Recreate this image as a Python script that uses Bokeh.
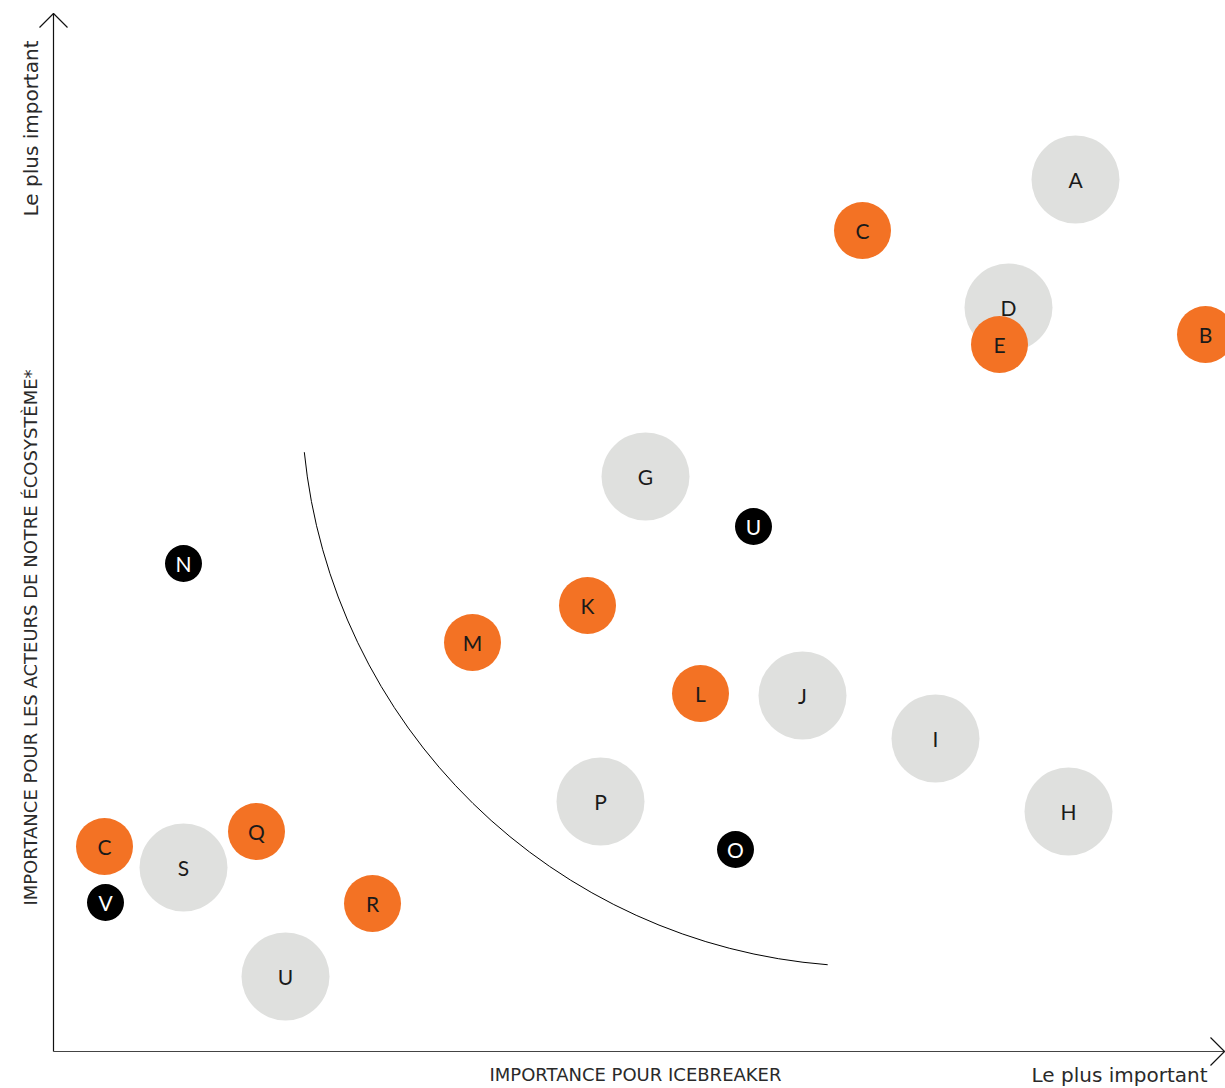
import math
from bokeh.plotting import figure
from bokeh.models import Range1d, ColumnDataSource
from bokeh.core.properties import value
from bokeh.embed import file_html
from bokeh.resources import INLINE

# ---- data (units: 0 = axis origin) ----
gray_labels = ["A", "D", "G", "J", "I", "H", "P", "S", "U"]
gray_x = [102.2, 95.5, 59.2, 74.9, 88.2, 101.5, 54.7, 13.0, 23.2]
gray_y = [87.2, 74.4, 57.5, 35.6, 31.3, 24.0, 25.0, 18.4, 7.5]

orange_labels = ["C", "E", "B", "K", "M", "L", "C", "Q", "R"]
orange_x = [80.9, 94.6, 115.2, 53.4, 41.9, 64.7, 5.1, 20.3, 31.9]
orange_y = [82.1, 70.7, 71.7, 44.6, 40.9, 35.8, 20.5, 22.0, 14.8]

black_labels = ["U", "N", "O", "V"]
black_x = [70.0, 13.0, 68.2, 5.2]
black_y = [52.5, 48.8, 20.2, 14.9]

# separating arc (centre, radius, start/end angle in degrees)
arc_cx, arc_cy, arc_r = 81.9, 65.6, 57.1
arc_a0, arc_a1 = 185.7, 265.5

x_title = "IMPORTANCE POUR ICEBREAKER"
y_title = "IMPORTANCE POUR LES ACTEURS DE NOTRE ÉCOSYSTÈME*"
most_label = "Le plus important"

ORANGE = "#F37224"
GRAY = "#DFE0DE"
LABEL_FONT = value("Lato")
AXIS_FONT = value("DejaVu Sans")
AXIS_TEXT_COLOR = "#2a2a2a"

p = figure(width=1225, height=1088, output_backend="svg", toolbar_location=None,
           x_range=Range1d(-5.3, 117.2), y_range=Range1d(-3.7, 105.1),
           x_axis_location=None, y_axis_location=None, min_border=0)
p.outline_line_color = None
p.xgrid.visible = False
p.ygrid.visible = False
p.background_fill_color = "white"
p.border_fill_color = "white"

# axes with open arrow heads
x_end = 117.1
y_end = 103.8
p.line([0, 0], [0, y_end], line_color="#111111", line_width=1.2)
p.line([0, x_end], [0, 0], line_color="#444444", line_width=1.2)
p.line([-1.4, 0, 1.4], [y_end - 1.4, y_end, y_end - 1.4], line_color="#111111", line_width=1.2)
p.line([x_end - 1.4, x_end, x_end - 1.4], [1.4, 0, -1.4], line_color="#111111", line_width=1.2)

# arc
p.arc(x=[arc_cx], y=[arc_cy], radius=arc_r,
      start_angle=math.radians(arc_a0), end_angle=math.radians(arc_a1),
      direction="anticlock", line_color="black", line_width=1)

def group(xs, ys, labels, fill, size, tcolor):
    src = ColumnDataSource(dict(x=xs, y=ys, label=labels))
    p.scatter("x", "y", source=src, size=size, fill_color=fill, line_color=None)
    p.text("x", "y", text="label", source=src, text_align="center",
           text_baseline="middle", text_font=LABEL_FONT, text_font_size="21px",
           text_color=tcolor)

group(gray_x, gray_y, gray_labels, GRAY, 88, "#1a1a1a")
group(orange_x, orange_y, orange_labels, ORANGE, 57, "#1a1a1a")
group(black_x, black_y, black_labels, "black", 37, "white")

# axis texts
p.text(x=[58.2], y=[-2.3], text=[x_title], text_align="center", text_baseline="middle",
       text_font=AXIS_FONT, text_font_size="18px", text_color=AXIS_TEXT_COLOR)
p.text(x=[115.4], y=[-2.3], text=[most_label], text_align="right", text_baseline="middle",
       text_font=AXIS_FONT, text_font_size="20px", text_color=AXIS_TEXT_COLOR)
p.text(x=[-2.3], y=[41.4], text=[y_title], angle=math.pi / 2, text_align="center",
       text_baseline="middle", text_font=AXIS_FONT, text_font_size="18px", text_color=AXIS_TEXT_COLOR)
p.text(x=[-2.3], y=[92.3], text=[most_label], angle=math.pi / 2, text_align="center",
       text_baseline="middle", text_font=AXIS_FONT, text_font_size="20px", text_color=AXIS_TEXT_COLOR)

open("out.html", "w").write(file_html(p, INLINE))
